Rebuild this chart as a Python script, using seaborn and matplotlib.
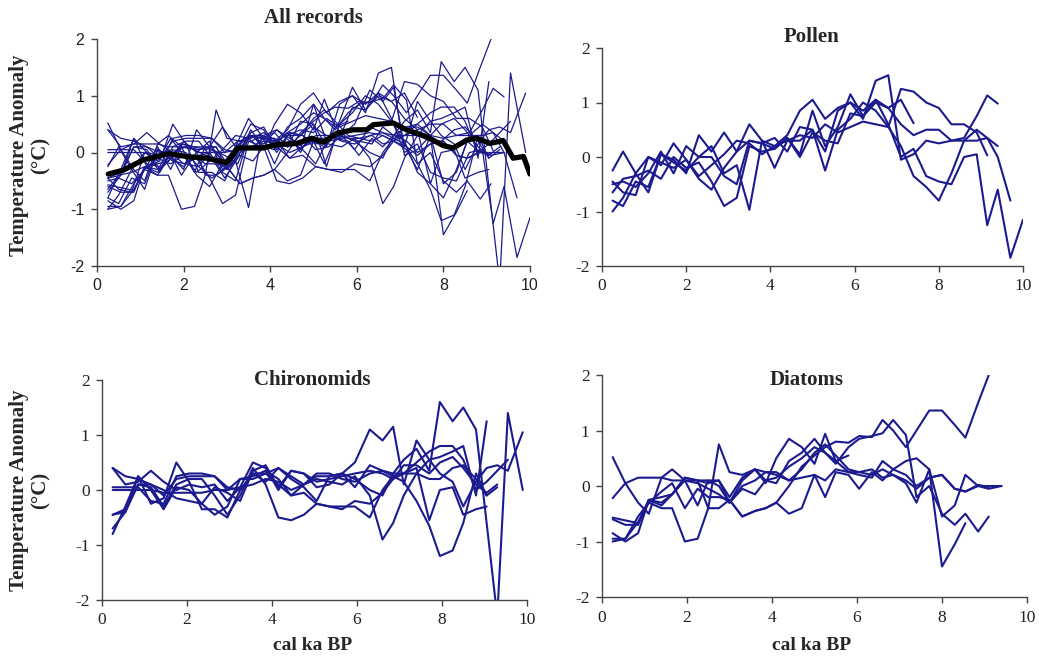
import matplotlib

matplotlib.use("Agg")
import matplotlib.pyplot as plt
import numpy as np
import pandas as pd
import seaborn as sns

nan = np.nan

# sample ages (cal ka BP) for each proxy group
pollen_ages = [0.25, 0.5, 0.8, 1.1, 1.4, 1.7, 2.0, 2.3, 2.6, 2.9, 3.2, 3.5, 3.8, 4.1, 4.4, 4.7, 5.0,
               5.3, 5.6, 5.9, 6.2, 6.5, 6.8, 7.1, 7.4, 7.7, 8.0, 8.3, 8.6, 8.9, 9.15, 9.4, 9.7, 10.0]
chiro_ages = [0.25, 0.55, 0.85, 1.15, 1.45, 1.75, 2.05, 2.35, 2.65, 2.95, 3.25, 3.55, 3.85, 4.15, 4.45,
              4.75, 5.05, 5.35, 5.65, 5.95, 6.3, 6.6, 6.85, 7.1, 7.4, 7.7, 7.95, 8.25, 8.5, 8.8, 9.05,
              9.3, 9.55, 9.9]
diatom_ages = [0.25, 0.55, 0.85, 1.1, 1.4, 1.65, 1.95, 2.25, 2.5, 2.75, 3.0, 3.3, 3.6, 3.85, 4.1, 4.4,
               4.7, 5.0, 5.25, 5.5, 5.8, 6.05, 6.35, 6.6, 6.85, 7.15, 7.4, 7.7, 8.0, 8.3, 8.55, 8.85,
               9.1, 9.4]

# temperature anomalies (deg C), one list per record
pollen = {
    "P1": [-0.8, -0.9, -0.45, -0.55, 0.05, -0.1, -0.25, 0.0, 0.2, -0.3, -0.15, -0.97, 0.3, 0.2, 0.4,
           0.85, 1.05, 0.7, 0.9, 1.0, 0.85, 1.05, 0.6, 0.0, 0.15, -0.35, -0.45, -0.5, 0.0, 0.05, -1.25,
           -0.6, -1.85, -1.15],
    "P2": [-0.25, 0.1, -0.3, -0.65, 0.05, -0.05, -0.3, 0.4, 0.1, 0.45, 0.1, 0.6, 0.3, -0.2, 0.3, 0.3,
           0.5, 0.1, 0.85, 1.0, 0.7, 1.4, 1.5, -0.05, 0.05, 0.3, 0.25, 0.3, 0.35, 0.75, 1.13, 0.98,
           nan, nan],
    "P3": [-0.45, -0.65, -0.7, 0.0, -0.15, 0.25, -0.05, -0.4, -0.6, -0.2, 0.1, 0.3, 0.25, 0.15, 0.35,
           0.05, 0.85, 0.2, 0.55, 1.15, 0.75, 1.05, 0.9, 1.05, 0.62, nan, nan, nan, nan, nan, nan, nan,
           nan, nan],
    "P4": [-0.5, -0.45, -0.55, -0.3, 0.1, -0.3, 0.2, 0.0, 0.0, -0.35, -0.5, 0.3, 0.25, 0.35, 0.1, 0.55,
           0.5, -0.25, 0.5, 0.7, 1.0, 0.85, 0.55, 1.25, 1.2, 1.0, 0.9, 0.6, 0.6, 0.45, 0.03, nan, nan,
           nan],
    "P5": [-0.65, -0.4, -0.35, -0.25, -0.4, 0.0, -0.2, -0.1, -0.45, -0.9, -0.75, 0.2, 0.1, 0.15, 0.35,
           0.0, 0.45, 0.3, 0.25, 0.8, 0.75, 1.0, 0.9, 0.6, 0.4, 0.5, 0.5, 0.3, 0.3, 0.3, 0.35, 0.2, nan,
           nan],
    "P6": [-1.0, -0.75, -0.3, 0.0, -0.1, -0.2, -0.05, -0.35, -0.15, 0.05, 0.3, 0.25, 0.05, 0.2, 0.3,
           0.4, 0.35, 0.6, 0.45, 0.55, 0.65, 0.6, 0.55, 0.2, -0.35, -0.55, -0.8, -0.3, 0.3, 0.5, 0.35,
           0.0, -0.8, nan],
}
chironomids = {
    "C1": [0.4, 0.25, 0.2, 0.1, -0.1, 0.2, 0.25, 0.25, 0.25, 0.0, 0.2, 0.25, 0.35, 0.2, -0.1, 0.1,
           0.25, 0.25, 0.3, 0.2, 0.0, -0.1, 0.3, 0.55, 0.75, 0.35, 1.6, 1.25, 1.5, 1.1, -0.6, -2.3, 1.4,
           0.0],
    "C2": [-0.8, -0.3, 0.25, -0.25, -0.15, 0.5, 0.15, -0.35, -0.35, -0.5, 0.0, 0.3, 0.15, 0.4, 0.2,
           0.05, -0.2, 0.25, 0.3, 0.5, 1.1, 0.9, 1.15, 0.1, 0.9, 0.55, 0.6, 0.7, 0.8, -0.1, 1.25, nan,
           nan, nan],
    "C3": [0.0, 0.0, 0.0, 0.0, -0.05, -0.05, -0.05, -0.05, 0.0, 0.0, 0.05, 0.1, 0.2, 0.15, 0.0, 0.1,
           0.2, 0.15, 0.1, 0.25, -0.1, -0.9, -0.6, -0.1, 0.3, 0.55, 0.3, 0.15, -0.3, 0.15, 0.4, 0.45,
           0.35, 1.05],
    "C4": [-0.45, -0.35, 0.1, 0.05, -0.3, 0.1, 0.2, 0.2, -0.1, -0.45, -0.1, 0.4, 0.1, -0.5, -0.55,
           -0.45, -0.25, -0.3, -0.3, -0.3, -0.5, 0.0, 0.25, 0.15, -0.2, -0.65, -1.2, -1.1, -0.6, 0.3,
           -0.1, 0.05, nan, nan],
    "C5": [-0.45, -0.4, 0.25, 0.0, -0.35, 0.05, 0.0, -0.25, -0.45, -0.3, 0.2, 0.2, 0.3, 0.1, -0.1,
           -0.05, -0.25, -0.3, -0.35, -0.2, -0.25, -0.05, 0.2, 0.3, 0.4, -0.55, 0.0, 0.05, -0.45,
           -0.35, -0.3, nan, nan, nan],
    "C6": [0.05, 0.05, 0.05, -0.2, -0.25, 0.25, 0.3, 0.3, 0.25, 0.05, 0.0, 0.3, 0.3, 0.4, 0.25, 0.1,
           0.3, 0.3, 0.2, 0.15, 0.3, 0.35, 0.3, 0.3, 0.5, 0.7, 0.8, 0.8, 0.55, 0.0, 0.15, 0.35, 0.55,
           nan],
    "C7": [0.4, 0.1, 0.15, 0.35, 0.15, 0.0, 0.1, 0.05, 0.1, -0.2, 0.05, 0.5, 0.4, 0.0, 0.35, 0.3, 0.05,
           0.1, 0.3, 0.05, 0.45, 0.35, 0.25, 0.3, 0.3, 0.2, 0.2, 0.4, 0.45, 0.2, -0.1, nan, nan, nan],
    "C8": [-0.7, -0.4, 0.1, 0.1, 0.0, -0.15, -0.2, -0.25, 0.05, -0.05, -0.2, 0.35, 0.45, 0.05, 0.35,
           0.3, 0.15, 0.2, 0.25, 0.3, 0.35, 0.3, 0.2, 0.45, 0.45, 0.3, 0.5, 0.6, 0.4, 0.1, -0.05, 0.1,
           nan, nan],
}
diatoms = {
    "D1": [-1.0, -0.95, -0.65, -0.3, -0.4, -0.4, -1.0, -0.95, -0.4, -0.4, -0.25, -0.55, -0.45, -0.4,
           -0.3, 0.0, 0.35, 0.55, 0.7, 0.8, 0.78, 0.9, 0.88, 1.19, 1.0, 0.7, 1.0, 1.36, 1.36, 1.1, 0.87,
           1.5, 2.0, nan],
    "D2": [0.52, 0.05, -0.3, -0.5, 0.15, 0.3, 0.1, -0.35, 0.1, 0.0, -0.3, 0.0, 0.1, 0.25, 0.2, 0.1,
           0.3, 0.6, 0.75, 0.55, 0.3, 0.25, 0.2, 0.3, 0.2, 0.05, -0.3, 0.3, -1.45, -1.05, -0.67, nan,
           nan, nan],
    "D3": [-0.85, -1.0, -0.85, -0.25, -0.3, -0.15, 0.1, 0.05, -0.05, -0.15, -0.3, -0.05, -0.15, 0.1,
           0.05, 0.45, 0.6, 0.85, 0.6, 0.4, 0.7, 0.85, 0.9, 0.95, 1.19, 0.92, -0.2, 0.0, -0.5, -0.7,
           -0.5, -0.82, -0.55, nan],
    "D4": [-0.57, -0.62, -0.67, -0.25, -0.2, -0.15, 0.15, 0.1, 0.05, 0.1, -0.2, 0.15, 0.3, 0.1, 0.15,
           0.35, 0.5, 0.7, 0.6, 0.45, 0.55, nan, nan, nan, nan, nan, nan, nan, nan, nan, nan, nan, nan,
           nan],
    "D5": [-0.22, 0.05, 0.15, 0.15, 0.15, 0.1, 0.1, 0.1, 0.1, 0.1, -0.3, 0.1, 0.3, 0.05, 0.5, 0.85, 0.7,
           0.4, 0.94, 0.45, 0.25, 0.25, 0.3, 0.15, 0.2, 0.1, -0.05, 0.15, 0.2, -0.05, -0.1, 0.0, 0.0,
           0.0],
    "D6": [-0.95, -0.95, -0.55, -0.3, -0.1, 0.05, -0.4, -0.05, -0.2, -0.2, -0.25, -0.55, -0.45, -0.4,
           -0.3, -0.5, -0.4, 0.2, -0.2, 0.25, 0.2, -0.05, 0.25, 0.1, 0.3, 0.45, 0.5, 0.3, -0.55, -0.35,
           0.2, 0.0, -0.05, 0.0],
    "D7": [-0.6, -0.7, -0.7, -0.25, -0.35, -0.15, 0.15, 0.1, -0.4, 0.75, 0.25, 0.2, 0.3, 0.25, 0.25,
           0.1, 0.15, 0.2, 0.1, 0.3, 0.25, 0.2, 0.15, 0.45, 0.3, 0.2, 0.0, 0.15, 0.2, -0.05, -0.1, 0.02,
           -0.02, nan],
}

# mean of all records (black line)
mean_ages = [0.26, 0.61, 1.07, 1.65, 2.15, 2.53, 3.0, 3.26, 3.84, 4.15, 4.61, 4.96, 5.23, 5.54, 5.92,
             6.23, 6.38, 6.84, 7.15, 7.61, 8.0, 8.23, 8.54, 8.77, 9.08, 9.38, 9.61, 9.85, 10.0]
mean_anom = [-0.38, -0.31, -0.13, -0.02, -0.08, -0.1, -0.18, 0.08, 0.08, 0.14, 0.16, 0.25, 0.18, 0.34,
             0.4, 0.4, 0.49, 0.52, 0.4, 0.28, 0.12, 0.08, 0.22, 0.25, 0.16, 0.21, -0.1, -0.07, -0.38]

NAVY = "#1b1b8f"
W, H = 1039, 663


def to_long(ages, records):
    rows = []
    for name, vals in records.items():
        for a, v in zip(ages, vals):
            if not np.isnan(v):
                rows.append({"age": a, "anomaly": v, "record": name})
    return pd.DataFrame(rows)


df_pollen = to_long(pollen_ages, pollen)
df_chiro = to_long(chiro_ages, chironomids)
df_diatom = to_long(diatom_ages, diatoms)
df_all = pd.concat([df_pollen, df_chiro, df_diatom], ignore_index=True)
df_mean = pd.DataFrame({"age": mean_ages, "anomaly": mean_anom})

sns.set_style("ticks")
plt.rcParams["font.family"] = ["Liberation Serif", "DejaVu Serif"]
plt.rcParams["axes.unicode_minus"] = False

fig = plt.figure(figsize=(W / 100, H / 100), dpi=100)


def box(x0, y0, x1, y1):
    # pixel box -> figure fraction rect
    return [x0 / W, 1 - y1 / H, (x1 - x0) / W, (y1 - y0) / H]


ax1 = fig.add_axes(box(97, 39, 530, 266))
ax2 = fig.add_axes(box(602, 48, 1023, 266))
ax3 = fig.add_axes(box(102, 380, 527, 600))
ax4 = fig.add_axes(box(602, 375, 1027, 597))

sns.lineplot(data=df_all, x="age", y="anomaly", units="record", estimator=None,
             color=NAVY, lw=0.9, ax=ax1, legend=False)
sns.lineplot(data=df_mean, x="age", y="anomaly", color="black", lw=3.8, ax=ax1,
             legend=False)
sns.lineplot(data=df_pollen, x="age", y="anomaly", units="record", estimator=None,
             color=NAVY, lw=1.5, ax=ax2, legend=False)
sns.lineplot(data=df_chiro, x="age", y="anomaly", units="record", estimator=None,
             color=NAVY, lw=1.5, ax=ax3, legend=False)
sns.lineplot(data=df_diatom, x="age", y="anomaly", units="record", estimator=None,
             color=NAVY, lw=1.5, ax=ax4, legend=False)

for ax in (ax1, ax2, ax3, ax4):
    ax.set_xlim(0, 10)
    ax.set_ylim(-2, 2)
    ax.set_xticks([0, 2, 4, 6, 8, 10])
    ax.set_yticks([-2, -1, 0, 1, 2])
    ax.set_xlabel("")
    ax.set_ylabel("")
    for side in ("top", "right"):
        ax.spines[side].set_visible(False)
    for side in ("left", "bottom"):
        ax.spines[side].set_color("#444444")
        ax.spines[side].set_linewidth(1.0)
    ax.tick_params(direction="out", length=4, width=1, color="#444444",
                   labelsize=12.5, labelcolor="#222222", pad=5)

for lab in ax1.get_xticklabels() + ax1.get_yticklabels():
    lab.set_family("Liberation Sans")
    lab.set_fontsize(11.5)

title_kw = dict(fontsize=15, fontweight="bold", ha="center", va="center")
fig.text(313 / W, 1 - 18 / H, "All records", **title_kw)
fig.text(812 / W, 1 - 37 / H, "Pollen", **title_kw)
fig.text(312 / W, 1 - 380 / H, "Chironomids", **title_kw)
fig.text(807 / W, 1 - 380 / H, "Diatoms", **title_kw)

ylab = "Temperature Anomaly\n(°C)"
fig.text(30 / W, 1 - 155 / H, ylab, fontsize=15, fontweight="bold", rotation=90,
         ha="center", va="center", linespacing=1.1)
fig.text(30 / W, 1 - 490 / H, ylab, fontsize=15, fontweight="bold", rotation=90,
         ha="center", va="center", linespacing=1.1)

fig.text(313 / W, 1 - 645 / H, "cal ka BP", fontsize=14, fontweight="bold",
         ha="center", va="center")
fig.text(812 / W, 1 - 645 / H, "cal ka BP", fontsize=14, fontweight="bold",
         ha="center", va="center")

fig.savefig("out.png", dpi=100)
plt.close(fig)
